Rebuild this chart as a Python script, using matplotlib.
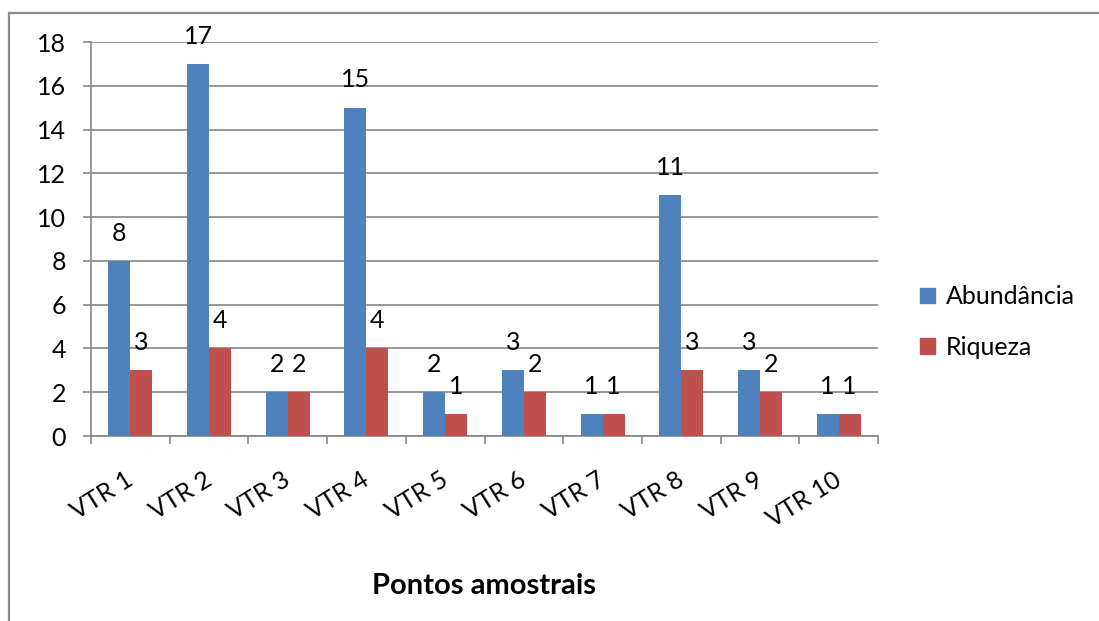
import numpy as np
import matplotlib.pyplot as plt
from matplotlib.patches import Rectangle, Patch
import matplotlib.transforms as mtrans

plt.rcParams['font.family'] = ['Lato', 'DejaVu Sans']

categorias = ['VTR 1', 'VTR 2', 'VTR 3', 'VTR 4', 'VTR 5',
              'VTR 6', 'VTR 7', 'VTR 8', 'VTR 9', 'VTR 10']
abundancia = [8, 17, 2, 15, 2, 3, 1, 11, 3, 1]
riqueza = [3, 4, 2, 4, 1, 2, 1, 3, 2, 1]

azul = '#4F81BD'
vermelho = '#C0504D'
cinza = '#868686'
fs = 18

fig = plt.figure(figsize=(10.99, 6.21), dpi=100)
ax = fig.add_axes([91 / 1099, 1 - 436 / 621, 787 / 1099, 394 / 621])

# moldura do grafico
fig.patches.append(Rectangle((9 / 1099, -0.1), 1.2, 1 - 13 / 621 + 0.1,
                             transform=fig.transFigure, fill=False,
                             edgecolor='#8c8c8c', linewidth=1.6))

x = np.arange(len(categorias))
w = 0.28
b1 = ax.bar(x - w / 2, abundancia, w, color=azul, zorder=3)
b2 = ax.bar(x + w / 2, riqueza, w, color=vermelho, zorder=3)

for bars in (b1, b2):
    for r in bars:
        ax.annotate('{:d}'.format(int(r.get_height())),
                    (r.get_x() + r.get_width() / 2, r.get_height()),
                    xytext=(0, 20), textcoords='offset points',
                    ha='center', va='center', fontsize=fs)

ax.set_xlim(-0.5, len(categorias) - 0.5)
ax.set_ylim(0, 18)
ax.set_yticks(np.r_[0:19:2])
ax.yaxis.grid(True, color=cinza, linewidth=1.2, zorder=0)
ax.tick_params(axis='y', length=6, width=1.2, color=cinza, labelsize=fs, pad=12)

ax.set_xticks(x)
ax.set_xticklabels(categorias, rotation=32, ha='right', rotation_mode='anchor',
                   fontsize=fs)
ax.set_xticks(np.arange(-0.5, len(categorias)), minor=True)
ax.tick_params(axis='x', which='major', length=0, pad=23)
ax.tick_params(axis='x', which='minor', length=6, width=1.2, color=cinza)
off = mtrans.ScaledTranslation(-4 / 72, 0, fig.dpi_scale_trans)
for lbl in ax.get_xticklabels():
    lbl.set_transform(lbl.get_transform() + off)

for s in ['top', 'right']:
    ax.spines[s].set_visible(False)
for s in ['left', 'bottom']:
    ax.spines[s].set_color(cinza)
    ax.spines[s].set_linewidth(1.2)

ax.set_xlabel('Pontos amostrais', fontsize=21, fontweight='bold', labelpad=30)

handles = [Patch(color=azul, label='Abundância'), Patch(color=vermelho, label='Riqueza')]
fig.legend(handles=handles, loc='center left', bbox_to_anchor=(898 / 1099, 1 - 322 / 621),
           frameon=False, fontsize=fs, handlelength=0.6, handleheight=0.6,
           handletextpad=0.4, labelspacing=1.1)

fig.savefig('out.png', dpi=100)
